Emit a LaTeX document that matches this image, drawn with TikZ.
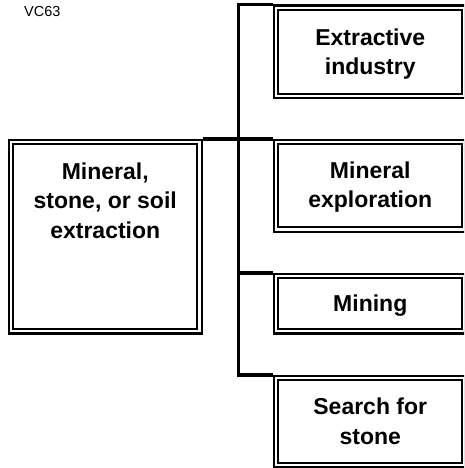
\documentclass[tikz,border=0pt]{standalone}
\usepackage{fontspec}
\setmainfont{Liberation Sans}
\begin{document}
\begin{tikzpicture}[x=1pt,y=-1pt,
  box/.style={draw=black, line width=2.1pt, double=white, double distance=2.3pt,
    minimum width=188.5pt, inner sep=0pt, outer sep=3.2pt},
  boxtext/.style={inner sep=0pt, align=center, font=\bfseries\fontsize{23}{29.5}\selectfont},
  conn/.style={draw=black, line width=3.4pt, line join=miter}]
\useasboundingbox (0,0) rectangle (464,468);
\clip (0,0) rectangle (464,468);

\node[anchor=base west, inner sep=0pt, font=\fontsize{14.5}{17}\selectfont] (code) at (24,16.5) {VC63};

\node[box, minimum height=189.3pt] (par) at (105.25,236.65) {};
\node[boxtext, anchor=north] (partext) at (105.25,162.4) {Mineral,\\stone, or soil\\extraction};

\node[box, minimum height=88.5pt] (ext) at (370.25,52) {};
\node[box, minimum height=87.5pt] (expl) at (370.25,185.75) {};
\node[box, minimum height=55.3pt] (mining) at (370.25,303.65) {};
\node[box, minimum height=87pt] (search) at (370.25,421.5) {};

\node[boxtext] (exttext) at ([yshift=-2pt]ext.center) {Extractive\\industry};
\node[boxtext] (expltext) at ([yshift=-1.5pt]expl.center) {Mineral\\exploration};
\node[boxtext] (miningtext) at ([yshift=-1.5pt]mining.center) {Mining};
\node[boxtext] (searchtext) at (search.center) {Search for\\stone};

\coordinate (trunk) at (238.3,0);

\draw[conn] (ext.north west) -- (trunk |- ext.north west) -- (trunk |- search.north west) -- (search.north west);
\draw[conn] (par.north east) -- (expl.north west);
\draw[conn] (trunk |- mining.north west) -- (mining.north west);
\end{tikzpicture}
\end{document}
